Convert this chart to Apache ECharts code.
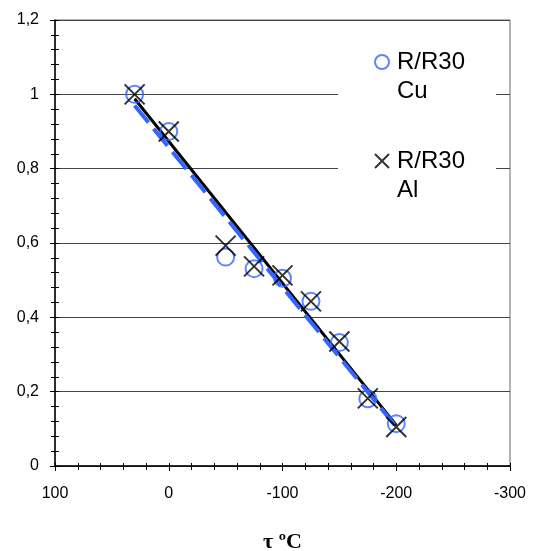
<!DOCTYPE html>
<html>
<head>
<meta charset="utf-8">
<script src="https://cdn.jsdelivr.net/npm/echarts@6/dist/echarts.min.js"></script>
<style>html,body{margin:0;padding:0;background:#fff}#c{width:534px;height:551px}</style>
</head>
<body>
<div id="c"></div>
<script>
// Temperatures (°C)
var temps = [30, 0, -50, -75, -100, -125, -150, -175, -200];
// R/R30 for copper
var cuValues = [1.0, 0.9, 0.562, 0.531, 0.505, 0.443, 0.332, 0.181, 0.114];
// R/R30 for aluminium
var alValues = [1.0, 0.9, 0.593, 0.537, 0.513, 0.443, 0.335, 0.182, 0.105];
// Trend line end points
var cuTrendX = [30, -200];
var cuTrendY = [0.970, 0.105];
var alTrendX = [30, -200];
var alTrendY = [0.988, 0.110];
// Axis ticks
var xTicks = [100, 0, -100, -200, -300];
var yTicks = [0, 0.2, 0.4, 0.6, 0.8, 1.0, 1.2];

var cuName = 'R/R30\nCu';
var alName = 'R/R30\nAl';
var crossPath = 'path://M0,0L10,10M10,0L0,10';

function zip(xs, ys) { return xs.map(function (x, i) { return [x, ys[i]]; }); }

var chart = echarts.init(document.getElementById('c'), null, { renderer: 'canvas' });
var font = 'Liberation Sans, Arial, sans-serif';

var xCommon = {
  type: 'value', min: xTicks[xTicks.length - 1], max: xTicks[0], interval: 100, inverse: true
};
var yCommon = {
  type: 'value', min: yTicks[0], max: yTicks[yTicks.length - 1], interval: 0.2
};

chart.setOption({
  animation: false,
  backgroundColor: '#fff',
  grid: { left: 55, top: 20, right: 24, bottom: 85, show: true, borderColor: '#666', borderWidth: 1,
    containLabel: false, outerBoundsMode: 'none' },
  graphic: [{
    type: 'rect', z: 1, left: 338, top: 34,
    shape: { width: 158, height: 186 },
    style: { fill: '#fff' }
  }],
  legend: {
    orient: 'vertical', left: 374, top: 18.5, padding: 0, itemGap: 12,
    itemWidth: 14, itemHeight: 14,
    data: [cuName, alName],
    formatter: function (name) { return '\n' + name; },
    textStyle: { fontFamily: font, fontSize: 24, lineHeight: 29, color: '#000', padding: [0, 0, 0, 3] }
  },
  xAxis: [
    Object.assign({}, xCommon, {
      position: 'bottom',
      name: 'τ ºC', nameLocation: 'middle', nameGap: 65,
      nameTextStyle: { fontFamily: 'Liberation Serif, Times New Roman, serif', fontWeight: 'bold', fontSize: 22, color: '#000' },
      axisLine: { onZero: false, lineStyle: { color: '#000', width: 1.5 } },
      axisTick: { show: true, inside: false, length: 5, lineStyle: { color: '#000', width: 1 } },
      minorTick: { show: true, splitNumber: 5, length: 4, lineStyle: { color: '#000', width: 1 } },
      axisLabel: { fontFamily: font, fontSize: 16, color: '#000', margin: 20, formatter: function (v) { return String(v); } },
      splitLine: { show: false }
    }),
    Object.assign({}, xCommon, {
      position: 'bottom', offset: 0,
      axisLine: { show: false, onZero: false },
      axisTick: { show: true, inside: true, length: 3, lineStyle: { color: '#000', width: 1 } },
      minorTick: { show: true, splitNumber: 5, length: 3, lineStyle: { color: '#000', width: 1 } },
      axisLabel: { show: false },
      splitLine: { show: false }
    })
  ],
  yAxis: [
    Object.assign({}, yCommon, {
      position: 'left',
      axisLine: { show: true, onZero: false, lineStyle: { color: '#000', width: 1.5 } },
      axisTick: { show: true, inside: false, length: 5, lineStyle: { color: '#000', width: 1 } },
      minorTick: { show: true, splitNumber: 5, length: 4, lineStyle: { color: '#000', width: 1 } },
      axisLabel: { fontFamily: font, fontSize: 16, color: '#000', margin: 16,
        formatter: function (v) { return String(+v.toFixed(1)).replace('.', ','); } },
      splitLine: { show: true, lineStyle: { color: '#444', width: 1 } }
    }),
    Object.assign({}, yCommon, {
      position: 'left', offset: 0,
      axisLine: { show: false, onZero: false },
      axisTick: { show: true, inside: true, length: 4, lineStyle: { color: '#000', width: 1 } },
      minorTick: { show: true, splitNumber: 5, length: 4, lineStyle: { color: '#000', width: 1 } },
      axisLabel: { show: false },
      splitLine: { show: false }
    })
  ],
  series: [
    {
      name: 'alTrend', type: 'line', xAxisIndex: 0, yAxisIndex: 0,
      data: zip(alTrendX, alTrendY), symbol: 'none', z: 2,
      lineStyle: { color: '#000', width: 3, type: 'solid' }
    },
    {
      name: 'cuTrend', type: 'line', xAxisIndex: 0, yAxisIndex: 0,
      data: zip(cuTrendX, cuTrendY), symbol: 'none', z: 3,
      lineStyle: { color: '#3366ff', width: 4, type: [22, 8] }
    },
    {
      name: cuName, type: 'scatter', xAxisIndex: 0, yAxisIndex: 0, z: 4,
      data: zip(temps, cuValues), symbol: 'circle', symbolSize: 17,
      itemStyle: { color: 'rgba(255,255,255,0)', borderColor: '#3366ff', borderWidth: 2 }
    },
    {
      name: alName, type: 'scatter', xAxisIndex: 0, yAxisIndex: 0, z: 5,
      data: zip(temps, alValues), symbol: crossPath, symbolSize: 20,
      itemStyle: { color: 'rgba(0,0,0,0)', borderColor: '#000', borderWidth: 2 }
    }
  ]
});
</script>
</body>
</html>
